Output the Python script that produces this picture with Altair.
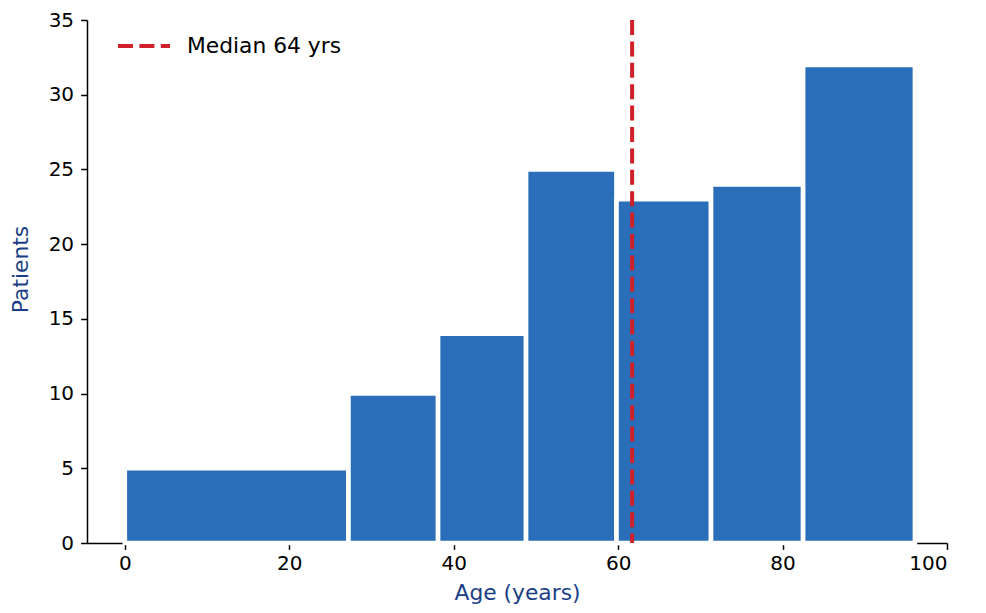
import altair as alt
import pandas as pd

# Histogram bins (age, years) and patient counts
bin_start = [0, 27.2, 38.1, 48.8, 59.8, 71.3, 82.5]
bin_end = [27.2, 38.1, 48.8, 59.8, 71.3, 82.5, 96.1]
patients = [5, 10, 14, 25, 23, 24, 32]
median_x = [61.7]
median_label = ["Median 64 yrs"]

bars_df = pd.DataFrame({"start": bin_start, "end": bin_end, "count": patients})
med_df = pd.DataFrame({"age": median_x, "label": median_label})

FONT = "DejaVu Sans"
TITLE_COLOR = "#1b3f86"

x_scale = alt.Scale(domain=[-4.6, 100], nice=False, zero=False)
y_scale = alt.Scale(domain=[0, 35], nice=False)

bars = alt.Chart(bars_df).mark_bar(
    color="#2a6db9", stroke="white", strokeWidth=4.6
).encode(
    x=alt.X("start:Q", scale=x_scale,
            axis=alt.Axis(title="Age (years)", values=[0, 20, 40, 60, 80, 100],
                          titleY=56, titleBaseline="alphabetic")),
    x2="end:Q",
    y=alt.Y("count:Q", scale=y_scale,
            axis=alt.Axis(title="Patients", values=[0, 5, 10, 15, 20, 25, 30, 35],
                          titleX=-67, titleY=249, titleBaseline="middle")),
    y2=alt.datum(0),
)

median = alt.Chart(med_df).mark_rule(
    strokeWidth=4, strokeDash=[15, 6.4]
).encode(
    x=alt.X("age:Q", scale=x_scale),
    color=alt.Color(
        "label:N",
        scale=alt.Scale(range=["#d0202a"]),
        legend=alt.Legend(
            title=None, orient="none", legendX=29, legendY=-2,
            symbolType="stroke", symbolSize=2704, symbolStrokeWidth=4,
            symbolDash=[15, 6.4], labelFontSize=21.8, labelFont=FONT,
            labelColor="black", labelOffset=15,
        ),
    ),
)

chart = alt.layer(bars, median).properties(
    width=860, height=523,
    autosize=alt.AutoSizeParams(type="none"),
    padding={"left": 79, "top": 12, "right": 30, "bottom": 62},
).configure_view(stroke=None).configure_axis(
    grid=False, domainColor="black", domainWidth=1.5,
    tickColor="black", tickWidth=1.5, tickSize=6.4,
    labelFont=FONT, labelFontSize=20, labelColor="black",
    titleFont=FONT, titleFontSize=21.8, titleColor=TITLE_COLOR,
    titleFontWeight="normal",
).configure_axisX(labelPadding=4).configure_axisY(labelPadding=7)

chart.save("out.html", embed_options={"renderer": "svg", "actions": False})
